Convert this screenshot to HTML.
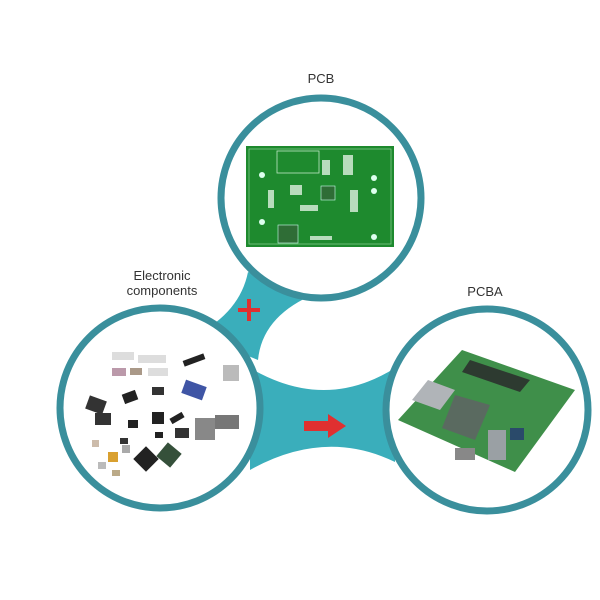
<!DOCTYPE html>
<html><head><meta charset="utf-8"><style>
html,body{margin:0;padding:0;background:#fff;width:600px;height:600px;overflow:hidden}
</style></head><body>
<svg width="600" height="600" viewBox="0 0 600 600" xmlns="http://www.w3.org/2000/svg" font-family="Liberation Sans, sans-serif">
<rect width="600" height="600" fill="#fff"/>
<!-- bridges -->
<path d="M250,368 Q325,412 395,368 L395,462 Q325,428 250,470 Z" fill="#3aaebb"/>
<path d="M196,335 Q240,312 248,272 L310,296 Q262,318 258,360 Z" fill="#3aaebb"/>
<!-- circles -->
<circle cx="321" cy="198" r="100" fill="#fff" stroke="#3a8f9c" stroke-width="7"/>
<circle cx="160" cy="408" r="100" fill="#fff" stroke="#3a8f9c" stroke-width="7"/>
<circle cx="487" cy="410" r="101" fill="#fff" stroke="#3a8f9c" stroke-width="7"/>
<!-- PCB -->
<rect x="246" y="146" width="148" height="101" fill="#1e8a2e"/>
<rect x="249" y="149" width="142" height="95" fill="none" stroke="#7fc98a" stroke-width="0.8"/>
<rect x="277" y="151" width="42" height="22" fill="none" stroke="#bfe6c4" stroke-width="0.8"/>
<rect x="321" y="186" width="14" height="14" fill="#2f6d36" stroke="#cfe" stroke-width="0.6"/>
<rect x="278" y="225" width="20" height="18" fill="#2f6d36" stroke="#cfe" stroke-width="0.6"/>
<circle cx="262" cy="175" r="3" fill="#dfe"/><circle cx="262" cy="222" r="3" fill="#dfe"/>
<circle cx="374" cy="178" r="3" fill="#dfe"/><circle cx="374" cy="191" r="3" fill="#dfe"/><circle cx="374" cy="237" r="3" fill="#dfe"/>
<g fill="#b8dcbc"><rect x="300" y="205" width="18" height="6"/><rect x="310" y="236" width="22" height="4"/><rect x="350" y="190" width="8" height="22"/><rect x="268" y="190" width="6" height="18"/><rect x="290" y="185" width="12" height="10"/><rect x="343" y="155" width="10" height="20"/><rect x="322" y="160" width="8" height="15"/></g>
<!-- components -->
<g>
<rect x="112" y="352" width="22" height="8" fill="#ddd"/><rect x="138" y="355" width="28" height="8" fill="#ddd"/>
<rect x="112" y="368" width="14" height="8" fill="#b9a"/><rect x="130" y="368" width="12" height="7" fill="#a98"/><rect x="148" y="368" width="20" height="8" fill="#ddd"/>
<rect x="183" y="357" width="22" height="6" fill="#222" transform="rotate(-20 194 360)"/>
<rect x="223" y="365" width="16" height="16" fill="#bbb"/>
<rect x="183" y="383" width="22" height="14" fill="#3f55a5" transform="rotate(20 194 390)"/>
<rect x="123" y="392" width="14" height="10" fill="#222" transform="rotate(-20 130 397)"/>
<rect x="152" y="387" width="12" height="8" fill="#333"/>
<rect x="87" y="398" width="18" height="14" fill="#333" transform="rotate(20 96 405)"/><rect x="95" y="413" width="16" height="12" fill="#333"/>
<rect x="128" y="420" width="10" height="8" fill="#222"/><rect x="152" y="412" width="12" height="12" fill="#222"/>
<rect x="170" y="415" width="14" height="6" fill="#222" transform="rotate(-30 177 418)"/>
<rect x="175" y="428" width="14" height="10" fill="#333"/><rect x="195" y="418" width="20" height="22" fill="#888"/>
<rect x="215" y="415" width="24" height="14" fill="#777"/>
<rect x="120" y="438" width="8" height="6" fill="#333"/><rect x="155" y="432" width="8" height="6" fill="#222"/>
<rect x="92" y="440" width="7" height="7" fill="#cba"/><rect x="108" y="452" width="10" height="10" fill="#d9a030"/><rect x="98" y="462" width="8" height="7" fill="#bbb"/><rect x="112" y="470" width="8" height="6" fill="#ba8"/>
<rect x="122" y="445" width="8" height="8" fill="#aaa"/>
<rect x="137" y="450" width="18" height="18" fill="#222" transform="rotate(45 146 459)"/>
<rect x="160" y="446" width="18" height="18" fill="#35503a" transform="rotate(40 169 455)"/>
</g>
<!-- motherboard -->
<polygon points="462,350 575,390 515,472 398,420" fill="#3f8f4a"/>
<polygon points="428,380 455,390 440,410 412,400" fill="#b0b4b8"/>
<polygon points="455,395 490,405 475,440 442,428" fill="#5a6a60"/>
<polygon points="470,360 530,380 520,392 462,372" fill="#2d3a30"/>
<rect x="488" y="430" width="18" height="30" fill="#9aa0a4"/>
<rect x="455" y="448" width="20" height="12" fill="#888"/>
<rect x="510" y="428" width="14" height="12" fill="#2a4a6a"/>
<!-- labels -->
<g fill="#333" font-size="13" text-anchor="middle">
<text x="321" y="83">PCB</text>
<text x="162" y="280">Electronic</text>
<text x="162" y="295">components</text>
<text x="485" y="296">PCBA</text>
</g>
<!-- plus -->
<rect x="238" y="308" width="22" height="4" fill="#e03030"/>
<rect x="247" y="299" width="4" height="22" fill="#e03030"/>
<!-- arrow -->
<polygon points="304,421 328,421 328,414 346,426 328,438 328,431 304,431" fill="#e03030"/>
</svg>
</body></html>
